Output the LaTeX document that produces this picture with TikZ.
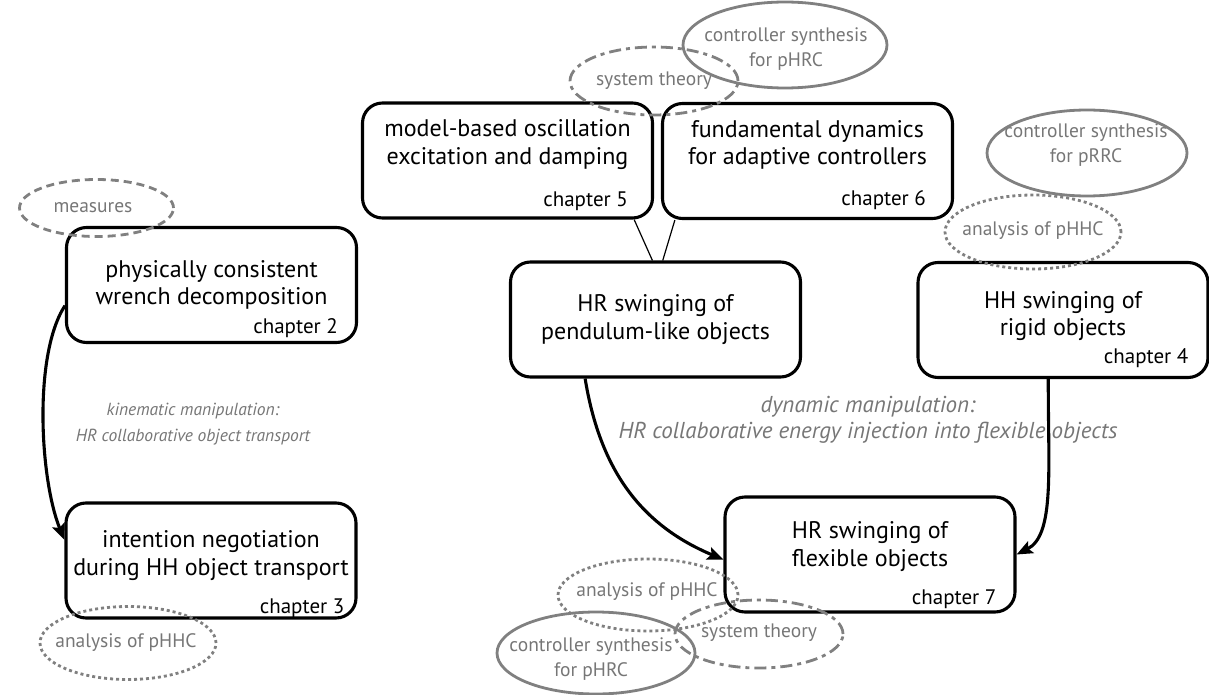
\documentclass[tikz,border=0pt]{standalone}
\usepackage{fontspec}
\setmainfont{PT Sans}
\usetikzlibrary{positioning,shapes.geometric,arrows.meta}
\definecolor{ringgray}{RGB}{128,128,128}
\definecolor{notegray}{RGB}{118,118,118}

\begin{document}
\begin{tikzpicture}[x=1pt,y=1pt]
   \tikzset{box/.style={draw, rounded corners=20pt, line width=3.1pt, minimum width=290pt, minimum height=115pt, align=center, font=\fontsize{24}{27.5}\selectfont},
      lift/.style={text depth=#1},
      chap/.style={inner sep=0pt, font=\fontsize{21}{24}\selectfont},
      ring/.style 2 args={ellipse, draw=ringgray, line width=2.8pt, minimum width=#1, minimum height=#2, inner sep=0pt},
      ringtext/.style={align=center, inner sep=0pt, text=notegray, font=\fontsize{19.5}{25}\selectfont},
      dashring/.style={dash pattern=on 8pt off 5pt},
      dotring/.style={dash pattern=on 3pt off 3pt},
      mixring/.style={dash pattern=on 12pt off 5pt on 4pt off 5pt},
      note/.style={align=center, text=notegray, font=\fontsize{#1}{26}\selectfont\itshape},
      link/.style={line width=3.1pt, -{Stealth[length=16pt,width=13pt,inset=3pt]}}};
   \useasboundingbox (0,0) rectangle (1209,-695);

% chapters
\node[box] (b1) at (211.5,-285) {physically consistent\\wrench decomposition};
\node[box, lift=15pt] (b2) at (211,-560.5) {intention negotiation\\during HH object transport};
\node[box, lift=37pt] (b3) at (507.5,-160.5) {model-based oscillation\\excitation and damping};
\node[box, lift=37pt] (b4) at (807.5,-161) {fundamental dynamics\\for adaptive controllers};
\node[box] (b5) at (655.5,-319.5) {HR swinging of\\pendulum-like objects};
\node[box, lift=13pt] (b6) at (1063,-320) {HH swinging of\\rigid objects};
\node[box, lift=21pt] (b7) at (870,-554.5) {HR swinging of\\flexible objects};

\node[chap, above left=6pt and 20pt of b1.south east] (c2) {chapter 2};
\node[chap, above left=2pt and 13pt of b2.south east] (c3) {chapter 3};
\node[chap, above left=9pt and 26pt of b3.south east] (c5) {chapter 5};
\node[chap, above left=10pt and 28pt of b4.south east] (c6) {chapter 6};
\node[chap, above left=11pt and 21pt of b6.south east] (c4) {chapter 4};
\node[chap, above left=5pt and 20pt of b7.south east] (c7) {chapter 7};

\draw[line width=1.2pt] (b3.335) -- (b5.93);
\draw[line width=1.2pt] (b4.204) -- (b5.83);

\draw[link] (b1.188) .. controls (33,-355) and (40,-480) .. (b2.172);
\draw[link] (b5.220) .. controls (600,-470) and (641,-525) .. (b7.182);
\draw[link] (b6.256) .. controls (1048,-470) and (1055,-535) .. (b7.east);

\node[note=17.5] (kin) at (193,-424) {kinematic manipulation:\\HR collaborative object transport};
\node[note=23] (dyn) at (868,-420) {dynamic manipulation:\\HR collaborative energy injection into flexible objects};

% topics
\node[ringtext] (t1) at (93,-208) {measures};
\node[ring={154}{57}, dashring] (r1) at (96.5,-208) {};
\node[ringtext] (t2) at (126,-643) {analysis of pHHC};
\node[ring={176}{73}, dotring] (r2) at (128,-643) {};
\node[ringtext] (t3) at (654,-81) {system theory};
\node[ring={168}{68}, mixring] (r3) at (654,-81) {};
\node[ringtext] (t4) at (786,-49) {controller synthesis\\for pHRC};
\node[ring={204}{86}] (r4) at (785,-45) {};
\node[ringtext] (t5) at (1086,-145) {controller synthesis\\for pRRC};
\node[ring={200}{86}] (r5) at (1087,-153) {};
\node[ringtext] (t6) at (1033,-231) {analysis of pHHC};
\node[ring={176}{74}, dotring] (r6) at (1033,-232) {};
\node[ringtext] (t7) at (647,-592) {analysis of pHHC};
\node[ring={180}{72}, dotring] (r7) at (648,-595) {};
\node[ringtext] (t8) at (759,-633) {system theory};
\node[ring={168}{68}, mixring] (r8) at (759,-634) {};
\node[ringtext] (t9) at (591,-659) {controller synthesis\\for pHRC};
\node[ring={198}{82}] (r9) at (596,-653) {};

\end{tikzpicture}
\end{document}
